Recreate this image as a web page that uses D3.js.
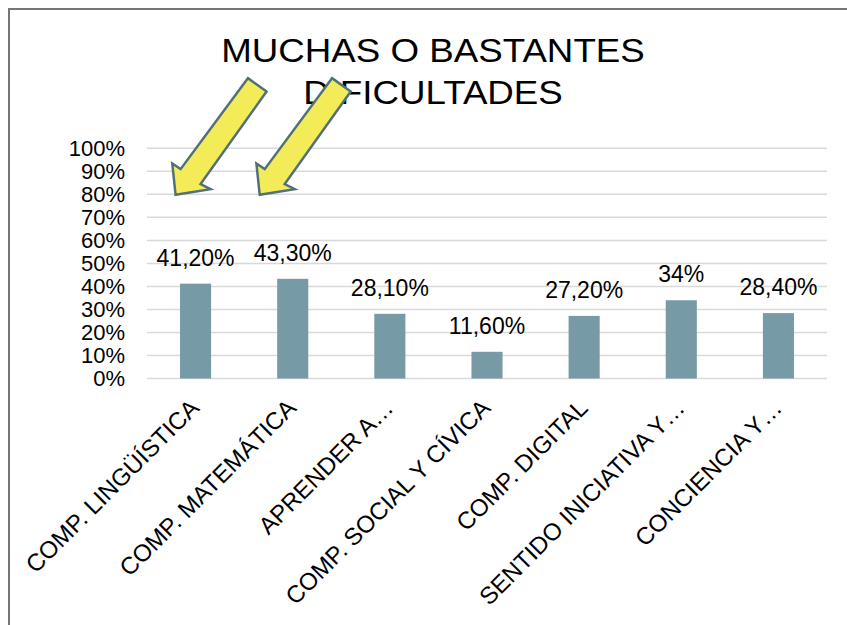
<!DOCTYPE html>
<html>
<head>
<meta charset="utf-8">
<script src="https://cdn.jsdelivr.net/npm/d3@7"></script>
<style>
  body { margin: 0; background: #fff; }
  svg { display: block; }
  text { font-family: "Liberation Sans", Arial, sans-serif; fill: #000; }
</style>
</head>
<body>
<svg width="847" height="625"></svg>
<script>
// data
var categories = ["COMP. LINGÜÍSTICA", "COMP. MATEMÁTICA", "APRENDER A…",
  "COMP. SOCIAL Y CÍVICA", "COMP. DIGITAL", "SENTIDO INICIATIVA Y…", "CONCIENCIA Y…"];
var values = [0.412, 0.433, 0.281, 0.116, 0.272, 0.34, 0.284];
var yTicks = [0, 0.1, 0.2, 0.3, 0.4, 0.5, 0.6, 0.7, 0.8, 0.9, 1];
var titleLines = ["MUCHAS O BASTANTES", "DIFICULTADES"];
// arrows point at these categories
var highlighted = ["COMP. LINGÜÍSTICA", "COMP. MATEMÁTICA"];

var svg = d3.select("svg"),
    width = +svg.attr("width"),
    height = +svg.attr("height");

var plot = { left: 147, right: 827, top: 148.3, bottom: 378.5 };

// outer frame (runs off the right / bottom edge)
svg.append("rect")
  .attr("x", 9).attr("y", 9)
  .attr("width", 900).attr("height", 700)
  .attr("fill", "none")
  .attr("stroke", "#767676")
  .attr("stroke-width", 2);

var x = d3.scaleBand()
  .domain(categories)
  .range([plot.left, plot.right])
  .paddingInner(0.68)
  .paddingOuter(0.34);

var y = d3.scaleLinear()
  .domain([0, 1])
  .range([plot.bottom, plot.top]);

var pct = d3.format(".0%");

// gridlines
svg.append("g")
  .selectAll("line")
  .data(yTicks)
  .enter().append("line")
    .attr("x1", plot.left)
    .attr("x2", plot.right)
    .attr("y1", function(d) { return y(d); })
    .attr("y2", function(d) { return y(d); })
    .attr("stroke", "#d9d9d9")
    .attr("stroke-width", 1.5);

// y axis labels
var yAxis = d3.axisLeft(y)
  .tickValues(yTicks)
  .tickFormat(pct)
  .tickSize(0)
  .tickPadding(22);

var gy = svg.append("g")
  .attr("transform", "translate(" + plot.left + ",0)")
  .call(yAxis);
gy.select(".domain").remove();
gy.selectAll("text")
  .style("font-family", "Liberation Sans, Arial, sans-serif")
  .style("font-size", "22px")
  .attr("fill", "#000");

// bars
svg.append("g")
  .selectAll("rect")
  .data(values)
  .enter().append("rect")
    .attr("x", function(d, i) { return x(categories[i]); })
    .attr("y", function(d) { return y(d); })
    .attr("width", x.bandwidth())
    .attr("height", function(d) { return y(0) - y(d); })
    .attr("fill", "#769aa6");

// value labels (Spanish decimal comma)
function fmtValue(v) {
  var p = Math.round(v * 1000) / 10;
  if (p % 1 === 0) return p + "%";
  return p.toFixed(2).replace(".", ",") + "%";
}

svg.append("g")
  .selectAll("text")
  .data(values)
  .enter().append("text")
    .attr("x", function(d, i) { return x(categories[i]) + x.bandwidth() / 2; })
    .attr("y", function(d) { return y(d) - 18; })
    .attr("text-anchor", "middle")
    .style("font-size", "23px")
    .text(fmtValue);

// category labels, rotated
svg.append("g")
  .selectAll("text")
  .data(categories)
  .enter().append("text")
    .attr("transform", function(d) {
      var cx = x(d) + x.bandwidth() / 2;
      return "translate(" + (cx - 1) + "," + (plot.bottom + 25) + ") rotate(-45)";
    })
    .attr("text-anchor", "end")
    .attr("dy", "0.35em")
    .style("font-size", "24px")
    .text(function(d) { return d; });

// title (slightly wide lettering, as in the reference)
svg.append("g")
  .selectAll("text")
  .data(titleLines)
  .enter().append("text")
    .attr("transform", function(d, i) {
      return "translate(433," + (62 + i * 42) + ") scale(1.08,1)";
    })
    .attr("text-anchor", "middle")
    .style("font-size", "34px")
    .text(function(d) { return d; });

// yellow arrows (shape relative to the tip)
var arrowShape = [[72.3, -116.7], [91, -103.3], [25, -10.7], [35, -5.7],
  [0, 0], [-3.3, -31.3], [5, -25.7]];
var arrowOffset = [-20, -33]; // tip offset from band centre

svg.append("g")
  .selectAll("polygon")
  .data(highlighted)
  .enter().append("polygon")
    .attr("points", function(d, i) {
      var tx = x(d) + x.bandwidth() / 2 + arrowOffset[i],
          ty = y(0.8) + 0.5;
      return arrowShape.map(function(p) { return (tx + p[0]) + "," + (ty + p[1]); }).join(" ");
    })
    .attr("fill", "#f3ec58")
    .attr("stroke", "#52707a")
    .attr("stroke-width", 2.5)
    .attr("stroke-linejoin", "miter");
</script>
</body>
</html>
